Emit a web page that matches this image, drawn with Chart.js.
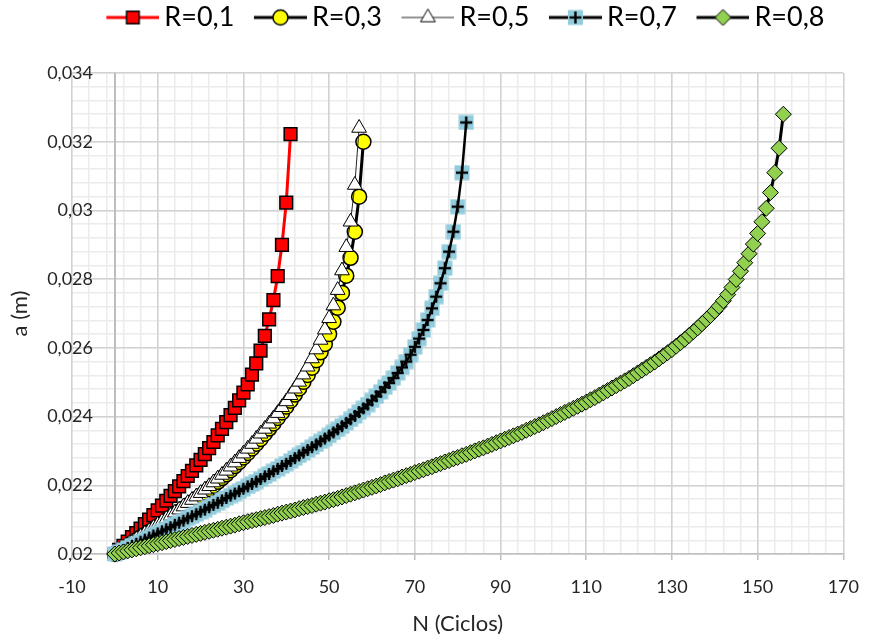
<!DOCTYPE html>
<html>
<head>
<meta charset="utf-8">
<script src="https://cdn.jsdelivr.net/npm/chart.js@4.4.1/dist/chart.umd.min.js"></script>
<style>
  html, body { margin: 0; padding: 0; background: #fff; }
</style>
</head>
<body>
<canvas id="grafico" width="875" height="637"></canvas>
<script>
// Series names
const series = ["R=0,1", "R=0,3", "R=0,5", "R=0,7", "R=0,8"];

// a (m) per cycle step, N = 0, 1, 2, ...
const aR01 = [0.02000,0.02012,0.02024,0.02036,0.02049,0.02061,0.02074,0.02087,0.02100,0.02113,
  0.02127,0.02141,0.02155,0.02169,0.02183,0.02197,0.02212,0.02227,0.02242,0.02258,
  0.02274,0.02291,0.02308,0.02326,0.02345,0.02364,0.02384,0.02404,0.02425,0.02447,
  0.02470,0.02494,0.02522,0.02555,0.02592,0.02635,0.02683,0.02739,0.02809,0.02900,
  0.03023,0.03222];

const aR03 = [0.02000,0.02008,0.02016,0.02024,0.02032,0.02040,0.02048,0.02056,0.02064,0.02072,
  0.02081,0.02089,0.02097,0.02106,0.02114,0.02123,0.02132,0.02141,0.02150,0.02159,
  0.02169,0.02179,0.02189,0.02199,0.02210,0.02221,0.02232,0.02244,0.02256,0.02268,
  0.02281,0.02294,0.02307,0.02321,0.02335,0.02350,0.02365,0.02380,0.02396,0.02412,
  0.02429,0.02446,0.02464,0.02482,0.02501,0.02521,0.02542,0.02564,0.02587,0.02611,
  0.02640,0.02676,0.02717,0.02760,0.02810,0.02862,0.02938,0.03040,0.03200];

const aR05 = [0.02000,0.02008,0.02016,0.02025,0.02033,0.02042,0.02050,0.02059,0.02067,0.02076,
  0.02085,0.02094,0.02102,0.02111,0.02120,0.02129,0.02138,0.02148,0.02157,0.02167,
  0.02177,0.02187,0.02197,0.02208,0.02219,0.02230,0.02242,0.02254,0.02266,0.02279,
  0.02292,0.02306,0.02320,0.02335,0.02350,0.02364,0.02379,0.02394,0.02410,0.02427,
  0.02444,0.02462,0.02481,0.02501,0.02522,0.02545,0.02569,0.02595,0.02623,0.02653,
  0.02686,0.02723,0.02768,0.02825,0.02893,0.02967,0.03074,0.03240];

const aR07 = [0.02000,0.02006,0.02012,0.02018,0.02024,0.02030,0.02036,0.02042,0.02048,0.02054,
  0.02060,0.02066,0.02072,0.02078,0.02085,0.02091,0.02097,0.02104,0.02110,0.02116,
  0.02123,0.02129,0.02136,0.02143,0.02149,0.02156,0.02163,0.02170,0.02176,0.02183,
  0.02190,0.02197,0.02204,0.02211,0.02218,0.02226,0.02233,0.02241,0.02248,0.02256,
  0.02263,0.02271,0.02279,0.02287,0.02295,0.02303,0.02311,0.02319,0.02328,0.02336,
  0.02345,0.02354,0.02363,0.02372,0.02382,0.02392,0.02402,0.02413,0.02424,0.02435,
  0.02447,0.02459,0.02472,0.02485,0.02498,0.02512,0.02527,0.02543,0.02560,0.02580,
  0.02603,0.02627,0.02652,0.02681,0.02715,0.02749,0.02788,0.02832,0.02880,0.02938,
  0.03011,0.03110,0.03256];

const aR08 = [0.02000,0.02003,0.02006,0.02009,0.02012,0.02015,0.02018,0.02021,0.02024,0.02027,
  0.02030,0.02033,0.02036,0.02039,0.02042,0.02045,0.02048,0.02051,0.02054,0.02057,
  0.02060,0.02063,0.02066,0.02069,0.02072,0.02075,0.02078,0.02081,0.02084,0.02088,
  0.02091,0.02094,0.02097,0.02100,0.02103,0.02106,0.02109,0.02112,0.02116,0.02119,
  0.02122,0.02125,0.02128,0.02132,0.02135,0.02138,0.02141,0.02145,0.02148,0.02151,
  0.02155,0.02158,0.02162,0.02166,0.02170,0.02174,0.02178,0.02182,0.02186,0.02190,
  0.02194,0.02198,0.02202,0.02207,0.02211,0.02215,0.02219,0.02224,0.02228,0.02232,
  0.02237,0.02241,0.02245,0.02250,0.02254,0.02259,0.02263,0.02268,0.02272,0.02277,
  0.02281,0.02286,0.02290,0.02295,0.02300,0.02305,0.02309,0.02314,0.02319,0.02324,
  0.02329,0.02334,0.02339,0.02344,0.02349,0.02354,0.02360,0.02365,0.02371,0.02376,
  0.02382,0.02388,0.02394,0.02400,0.02406,0.02412,0.02418,0.02424,0.02430,0.02436,
  0.02442,0.02449,0.02455,0.02462,0.02469,0.02476,0.02483,0.02490,0.02497,0.02504,
  0.02511,0.02519,0.02527,0.02535,0.02543,0.02551,0.02559,0.02568,0.02577,0.02586,
  0.02595,0.02605,0.02615,0.02625,0.02636,0.02647,0.02658,0.02670,0.02682,0.02694,
  0.02707,0.02721,0.02737,0.02755,0.02776,0.02799,0.02823,0.02848,0.02874,0.02902,
  0.02933,0.02967,0.03006,0.03052,0.03110,0.03181,0.03280];

// Axis ranges
const xMin = -10, xMax = 170, xStep = 20, xMinorStep = 4;
const yMin = 0.02, yMax = 0.034, yStep = 0.002, yMinorStep = 0.0004;

const FONT = "Lato, 'Open Sans', sans-serif";
const TXT = "#262626";
const TICK_SIZE = 18;

const toPoints = arr => arr.map((a, n) => ({ x: n, y: a }));
const fmtY = v => String(Number(v.toFixed(3))).replace(".", ",");

// y labels sit right-aligned just left of the N = 0 axis (like Excel)
const meas = document.createElement("canvas").getContext("2d");
meas.font = TICK_SIZE + "px " + FONT;
const widestY = meas.measureText("0,034").width;
const labelRight = 93;

// Markers
function mSquare(g, x, y) {
  g.fillStyle = "#ff0000"; g.strokeStyle = "#000"; g.lineWidth = 1.5;
  g.beginPath(); g.rect(x - 6.3, y - 6.3, 12.6, 12.6); g.fill(); g.stroke();
}
function mCircle(g, x, y) {
  g.fillStyle = "#ffff00"; g.strokeStyle = "#000"; g.lineWidth = 1.5;
  g.beginPath(); g.arc(x, y, 7.5, 0, Math.PI * 2); g.fill(); g.stroke();
}
function mTriangle(g, x, y) {
  const r = 8.5;
  g.fillStyle = "#fff"; g.strokeStyle = "#000"; g.lineWidth = 1;
  g.beginPath();
  g.moveTo(x, y - r);
  g.lineTo(x + r * 0.866, y + r / 2);
  g.lineTo(x - r * 0.866, y + r / 2);
  g.closePath(); g.fill(); g.stroke();
}
function mBlueBox(g, x, y) {
  g.fillStyle = "#93cddd";
  g.fillRect(x - 7.5, y - 7.5, 15, 15);
}
function mCross(g, x, y) {
  g.fillStyle = "#000";
  g.fillRect(x - 1.2, y - 6, 2.4, 12);
  g.fillRect(x - 6, y - 1.2, 12, 2.4);
}
function mPlus(g, x, y) { mBlueBox(g, x, y); mCross(g, x, y); }
function mDiamond(g, x, y) {
  const r = 8;
  g.fillStyle = "#92d050"; g.strokeStyle = "#000"; g.lineWidth = 1;
  g.beginPath();
  g.moveTo(x, y - r); g.lineTo(x + r, y); g.lineTo(x, y + r); g.lineTo(x - r, y);
  g.closePath(); g.fill(); g.stroke();
}

function markerImg(fn) {
  const c = document.createElement("canvas");
  c.width = 16; c.height = 16;
  fn(c.getContext("2d"), 8, 8);
  return c;
}
const boxImg = markerImg(mBlueBox);
const crossImg = markerImg(mCross);

// Legend icons: line segment with marker in the middle
function legendIcon(marker, color, width) {
  const c = document.createElement("canvas");
  c.width = 77; c.height = 24;
  const g = c.getContext("2d");
  g.strokeStyle = color; g.lineWidth = width;
  g.beginPath(); g.moveTo(24, 12); g.lineTo(77, 12); g.stroke();
  marker(g, 50.5, 12);
  return c;
}
const legendIcons = [
  legendIcon(mSquare, "#ff0000", 3),
  legendIcon(mCircle, "#000", 3),
  legendIcon(mTriangle, "#262626", 1),
  legendIcon(mPlus, "#000", 3),
  legendIcon(mDiamond, "#000", 3)
];

const common = { xAxisID: "x", yAxisID: "y", tension: 0, clip: false, fill: false };

const ctx = document.getElementById("grafico").getContext("2d");

new Chart(ctx, {
  type: "line",
  data: {
    datasets: [
      { ...common, label: series[0], data: toPoints(aR01), order: 6,
        borderColor: "#ff0000", borderWidth: 3,
        pointStyle: "rect", pointRadius: 9, pointHoverRadius: 9,
        pointBackgroundColor: "#ff0000", pointBorderColor: "#000", pointBorderWidth: 1.5 },
      { ...common, label: series[1], data: toPoints(aR03), order: 5,
        borderColor: "#000", borderWidth: 3,
        pointStyle: "circle", pointRadius: 7.5, pointHoverRadius: 7.5,
        pointBackgroundColor: "#ffff00", pointBorderColor: "#000", pointBorderWidth: 1.5 },
      { ...common, label: series[2], data: toPoints(aR05), order: 4,
        borderColor: "#262626", borderWidth: 1,
        pointStyle: "triangle", pointRadius: 8.5, pointHoverRadius: 8.5,
        pointBackgroundColor: "#fff", pointBorderColor: "#000", pointBorderWidth: 1 },
      // R=0,7: blue boxes underneath, line and crosses on top
      { ...common, label: series[3], data: toPoints(aR07), order: 3,
        showLine: false, pointStyle: boxImg, pointRadius: 8, pointHoverRadius: 8 },
      { ...common, label: series[3], data: toPoints(aR07), order: 2,
        borderColor: "#000", borderWidth: 2.5,
        pointStyle: crossImg, pointRadius: 8, pointHoverRadius: 8 },
      { ...common, label: series[4], data: toPoints(aR08), order: 1,
        borderColor: "#000", borderWidth: 3,
        pointStyle: "rectRot", pointRadius: 8, pointHoverRadius: 8,
        pointBackgroundColor: "#92d050", pointBorderColor: "#000", pointBorderWidth: 1 }
    ]
  },
  options: {
    responsive: false,
    animation: false,
    events: [],
    layout: { padding: { left: 0, right: 20, top: 0, bottom: 0 } },
    plugins: {
      tooltip: { enabled: false },
      legend: {
        position: "top",
        fullSize: false,
        labels: {
          usePointStyle: true,
          pointStyleWidth: 60,
          padding: 4,
          color: "#000",
          font: { family: FONT, size: 27 },
          generateLabels: () => series.map((name, i) => ({
            text: name, pointStyle: legendIcons[i], datasetIndex: i,
            fillStyle: "transparent", strokeStyle: "transparent", lineWidth: 0,
            hidden: false, fontColor: "#000"
          }))
        }
      }
    },
    scales: {
      // minor grid
      xMinor: {
        type: "linear", axis: "x", position: "bottom", min: xMin, max: xMax,
        ticks: { display: false, stepSize: xMinorStep },
        grid: { color: "#ececec", lineWidth: 1.5, drawTicks: false },
        border: { display: false },
        afterFit: s => { s.height = 0; }
      },
      yMinor: {
        type: "linear", axis: "y", position: "left", min: yMin, max: yMax,
        ticks: { display: false, stepSize: yMinorStep },
        grid: { color: "#ececec", lineWidth: 1.5, drawTicks: false },
        border: { display: false },
        afterFit: s => { s.width = 0; }
      },
      // main axes
      x: {
        type: "linear", position: "bottom", min: xMin, max: xMax,
        ticks: { stepSize: xStep, padding: 16, color: TXT, font: { family: FONT, size: TICK_SIZE } },
        grid: { color: "#d2d2d2", lineWidth: 1.5, tickLength: 6, tickColor: "#bfbfbf", tickWidth: 1.5 },
        border: { display: true, color: "#bfbfbf", width: 1.5 },
        title: { display: true, text: "N (Ciclos)", color: TXT,
                 font: { family: FONT, size: 22 }, padding: { top: 0, bottom: 0 } },
        afterFit: s => { s.height = 83; }
      },
      y: {
        type: "linear", position: "left", min: yMin, max: yMax,
        ticks: {
          stepSize: yStep, mirror: true, crossAlign: "far",
          padding: labelRight - 72 - widestY,
          color: TXT, font: { family: FONT, size: TICK_SIZE },
          callback: fmtY
        },
        grid: { color: "#d2d2d2", lineWidth: 1.5, drawTicks: false },
        border: { display: false },
        title: { display: true, text: "a (m)", color: TXT,
                 font: { family: FONT, size: 22 }, padding: { top: 7, bottom: 0 } },
        afterFit: s => { s.width = 72; }
      },
      // vertical axis line at N = 0
      xZero: {
        type: "linear", axis: "x", position: "bottom", min: xMin, max: xMax,
        ticks: { display: false },
        afterBuildTicks: s => { s.ticks = [{ value: 0 }]; },
        grid: { color: "#bdbdbd", lineWidth: 2, drawTicks: false },
        border: { display: false },
        afterFit: s => { s.height = 0; }
      },
      // spacer between legend and plot
      xTop: {
        type: "linear", axis: "x", position: "top", min: 0, max: 1,
        ticks: { display: false },
        grid: { display: false },
        border: { display: false },
        afterFit: s => { s.height = 32; }
      }
    }
  }
});
</script>
</body>
</html>
